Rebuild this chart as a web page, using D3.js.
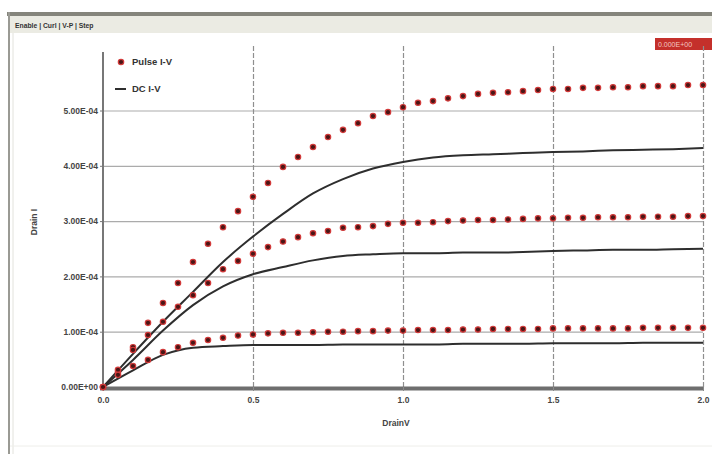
<!DOCTYPE html>
<html><head><meta charset="utf-8">
<script src="https://cdn.jsdelivr.net/npm/d3@7"></script>
<style>body{margin:0;background:#fff}svg{display:block}text{font-family:"Liberation Sans",Arial,sans-serif}</style>
</head><body>
<svg id="c" width="712" height="454"></svg>
<script>
// ---- data (drain current in A, drain voltage in V) ----
const pulseV = [0,0.05,0.1,0.15,0.2,0.25,0.3,0.35,0.4,0.45,0.5,0.55,0.6,0.65,0.7,0.75,0.8,0.85,0.9,0.95,1.0,
  1.05,1.1,1.15,1.2,1.25,1.3,1.35,1.4,1.45,1.5,1.55,1.6,1.65,1.7,1.75,1.8,1.85,1.9,1.95,2.0];
const pulseHigh = [0,0.27,0.72,1.16,1.52,1.88,2.26,2.59,2.89,3.18,3.44,3.69,3.98,4.16,4.34,4.52,4.65,4.77,4.90,4.97,5.06,
  5.14,5.17,5.22,5.26,5.30,5.32,5.33,5.35,5.37,5.39,5.39,5.41,5.41,5.42,5.42,5.44,5.44,5.44,5.46,5.46];
const pulseMid = [0,0.31,0.67,0.94,1.18,1.45,1.66,1.88,2.13,2.28,2.41,2.53,2.63,2.71,2.78,2.82,2.88,2.89,2.91,2.95,2.97,
  2.97,2.98,3.00,3.01,3.02,3.02,3.03,3.04,3.05,3.05,3.06,3.06,3.07,3.07,3.07,3.08,3.08,3.08,3.09,3.09];
const pulseLow = [0,0.22,0.38,0.49,0.63,0.72,0.80,0.85,0.89,0.93,0.95,0.97,0.98,0.98,0.99,1.00,1.00,1.01,1.01,1.02,1.02,
  1.03,1.03,1.03,1.04,1.04,1.05,1.05,1.05,1.05,1.06,1.06,1.06,1.06,1.06,1.06,1.07,1.07,1.07,1.07,1.07];
const dcV = [0,0.1,0.2,0.3,0.4,0.5,0.6,0.7,0.8,0.9,1.0,1.1,1.2,1.3,1.4,1.5,1.6,1.7,1.8,1.9,2.0];
const dcHigh = [0,0.60,1.18,1.72,2.26,2.72,3.13,3.50,3.76,3.95,4.07,4.15,4.19,4.21,4.23,4.25,4.26,4.28,4.29,4.30,4.32];
const dcMid  = [0,0.49,1.02,1.48,1.82,2.04,2.17,2.29,2.37,2.40,2.42,2.42,2.43,2.43,2.44,2.46,2.47,2.48,2.48,2.49,2.50];
const dcLow  = [0,0.30,0.58,0.71,0.74,0.76,0.76,0.76,0.77,0.77,0.77,0.77,0.78,0.78,0.78,0.79,0.79,0.79,0.80,0.80,0.80];
const currentUnit = 1e-4;
const yTicks = [0,1e-4,2e-4,3e-4,4e-4,5e-4];
const yTickLabels = ["0.00E+00","1.00E-04","2.00E-04","3.00E-04","4.00E-04","5.00E-04"];
const xTicks = [0,0.5,1.0,1.5,2.0];
const xTickLabels = ["0.0","0.5","1.0","1.5","2.0"];
const legendLabels = ["Pulse I-V","DC I-V"];
const tabLabels = "Enable | Curl | V-P | Step";
const xTitle = "DrainV", yTitle = "Drain I";

const svg = d3.select("#c");
// window frame
svg.append("rect").attr("x",7).attr("y",12).attr("width",705).attr("height",4).attr("fill","#85857c");
svg.append("rect").attr("x",9).attr("y",16).attr("width",703).attr("height",17).attr("fill","#ebebe3");
svg.append("line").attr("x1",9).attr("x2",9).attr("y1",12).attr("y2",454).attr("stroke","#9a9a94").attr("stroke-width",2);
svg.append("line").attr("x1",13).attr("x2",13).attr("y1",33).attr("y2",454).attr("stroke","#e2e2dc").attr("stroke-width",1);
svg.append("line").attr("x1",10).attr("x2",712).attr("y1",446).attr("y2",446).attr("stroke","#eeeeea").attr("stroke-width",1);
svg.append("text").attr("x",15).attr("y",28).attr("font-size",6.8).attr("font-weight","bold").attr("fill","#333").text(tabLabels);
svg.append("rect").attr("x",655).attr("y",38).attr("width",57).attr("height",12).attr("fill","#c4302b");
svg.append("text").attr("x",658).attr("y",47).attr("font-size",7).attr("fill","#f3c8c0").text("0.000E+00");

const x = d3.scaleLinear().domain([0,2]).range([103,703]);
const y = d3.scaleLinear().domain([0,6e-4]).range([387,55.2]);
const plotTop = 45;

// horizontal grid
svg.append("g").attr("transform",`translate(${x(0)},0)`)
  .call(d3.axisLeft(y).tickValues(yTicks.slice(1)).tickSize(-(x(2)-x(0))).tickFormat(""))
  .call(g=>g.select(".domain").remove())
  .call(g=>g.selectAll("line").attr("stroke","#ababab").attr("stroke-width",1.2));
// vertical grid
svg.append("g").attr("transform",`translate(0,${y(0)})`)
  .call(d3.axisBottom(x).tickValues(xTicks.slice(1)).tickSize(-(y(0)-plotTop)).tickFormat(""))
  .call(g=>g.select(".domain").remove())
  .call(g=>g.selectAll("line").attr("stroke","#8f8f8f").attr("stroke-width",1.2).attr("stroke-dasharray","5,2"));

// y axis
const ya = svg.append("g").attr("transform",`translate(${x(0)},0)`)
  .call(d3.axisLeft(y).tickValues(yTicks).tickSize(3).tickPadding(2).tickFormat((d,i)=>yTickLabels[i]));
ya.select(".domain").attr("d",`M0,${y(0)}V${plotTop+7}`).attr("stroke","#777").attr("stroke-width",2);
ya.selectAll("line").attr("stroke","#777");
ya.selectAll("text").attr("font-size",8.5).attr("font-weight","bold").attr("fill","#444");

// x axis
const xa = svg.append("g").attr("transform",`translate(0,${y(0)})`)
  .call(d3.axisBottom(x).tickValues(xTicks).tickSize(4).tickPadding(6).tickFormat((d,i)=>xTickLabels[i]));
xa.select(".domain").attr("d",`M${x(0)-3},1.5H${x(2)}`).attr("stroke","#6e6e6e").attr("stroke-width",4);
xa.selectAll("line").attr("stroke","#888");
xa.selectAll("text").attr("font-size",8.5).attr("font-weight","bold").attr("fill","#444");

svg.append("text").attr("x",396).attr("y",426).attr("text-anchor","middle").attr("font-size",8.5)
  .attr("font-weight","bold").attr("fill","#444").text(xTitle);
svg.append("text").attr("transform","translate(37,222) rotate(-90)").attr("text-anchor","middle")
  .attr("font-size",8.5).attr("font-weight","bold").attr("fill","#444").text(yTitle);

// DC lines
const line = d3.line().x(d=>x(d[0])).y(d=>y(d[1]*currentUnit)).curve(d3.curveMonotoneX);
[dcHigh,dcMid,dcLow].forEach(s=>{
  svg.append("path").datum(dcV.map((v,i)=>[v,s[i]])).attr("d",line)
    .attr("fill","none").attr("stroke","#2e2e2e").attr("stroke-width",2);
});
// pulse dots
[pulseHigh,pulseMid,pulseLow].forEach(s=>{
  svg.append("g").selectAll("circle").data(pulseV.map((v,i)=>[v,s[i]])).join("circle")
    .attr("cx",d=>x(d[0])).attr("cy",d=>y(d[1]*currentUnit)).attr("r",2.7)
    .attr("fill","#4a1616").attr("stroke","#d23a3a").attr("stroke-width",1.2);
});

// legend
svg.append("circle").attr("cx",121).attr("cy",62).attr("r",2.7).attr("fill","#4a1616").attr("stroke","#d23a3a").attr("stroke-width",1.2);
svg.append("text").attr("x",132).attr("y",65).attr("font-size",9.5).attr("font-weight","bold").attr("fill","#333").text(legendLabels[0]);
svg.append("line").attr("x1",115).attr("x2",126).attr("y1",89).attr("y2",89).attr("stroke","#2e2e2e").attr("stroke-width",2);
svg.append("text").attr("x",132).attr("y",92).attr("font-size",9.5).attr("font-weight","bold").attr("fill","#333").text(legendLabels[1]);
</script>
</body></html>
